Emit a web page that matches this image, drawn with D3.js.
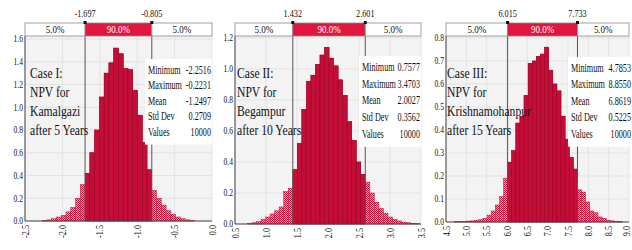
<!DOCTYPE html>
<meta charset="utf-8">
<script src="https://cdn.jsdelivr.net/npm/d3@7"></script>
<style>
  body { margin: 0; background: #fff; }
  text { font-family: "Liberation Serif", "Times New Roman", serif; }
</style>
<body>
<div id="chart"></div>
<script>
  // ---- data ----
  var caseLines1 = ["Case I:", "NPV for", "Kamalgazi", "after 5 Years"];
  var caseLines2 = ["Case II:", "NPV for", "Begampur", "after 10 Years"];
  var caseLines3 = ["Case III:", "NPV for", "Krishnamohanpur", "after 15 Years"];

  var statNames = ["Minimum", "Maximum", "Mean", "Std Dev", "Values"];
  var stats1 = ["-2.2516", "-0.2231", "-1.2497", "0.2709", "10000"];
  var stats2 = ["0.7577", "3.4703", "2.0027", "0.3562", "10000"];
  var stats3 = ["4.7853", "8.8550", "6.8619", "0.5225", "10000"];

  var bandLabels = ["5.0%", "90.0%", "5.0%"];
  var pct1 = [-1.697, -0.805];
  var pct2 = [1.432, 2.601];
  var pct3 = [6.015, 7.733];

  var xTicks1 = [-2.5, -2.0, -1.5, -1.0, -0.5, 0.0];
  var xTicks2 = [0.5, 1.0, 1.5, 2.0, 2.5, 3.0, 3.5];
  var xTicks3 = [4.5, 5.0, 5.5, 6.0, 6.5, 7.0, 7.5, 8.0, 8.5, 9.0];
  var yTicks1 = [0.0, 0.2, 0.4, 0.6, 0.8, 1.0, 1.2, 1.4, 1.6];
  var yTicks2 = [0.0, 0.2, 0.4, 0.6, 0.8, 1.0, 1.2];
  var yTicks3 = [0.0, 0.1, 0.2, 0.3, 0.4, 0.5, 0.6, 0.7, 0.8];

  // histogram bins: first bin edge, bin width, density per bin
  var binStart1 = -2.270, binWidth1 = 0.0637;
  var density1 = [0.004, 0.01, 0.02, 0.035, 0.05, 0.08, 0.12, 0.2, 0.32,
    0.42, 0.6, 0.8, 1.09, 1.3, 1.39, 1.52, 1.47, 1.34, 1.33, 1.15, 0.93, 0.69, 0.45,
    0.27, 0.2, 0.14, 0.09, 0.06, 0.035, 0.02, 0.01, 0.004];

  var binStart2 = 0.701, binWidth2 = 0.0731;
  var density2 = [0.003, 0.008, 0.015, 0.03, 0.045, 0.065, 0.085, 0.11, 0.21, 0.23,
    0.35, 0.52, 0.74, 0.92, 0.96, 1.03, 1.09, 1.14, 1.07, 1.02, 0.93, 0.83, 0.66, 0.54, 0.40, 0.32,
    0.27, 0.2, 0.14, 0.1, 0.07, 0.045, 0.03, 0.02, 0.012, 0.008, 0.004, 0.002];

  var binStart3 = 4.702, binWidth3 = 0.101;
  var density3 = [0.002, 0.002, 0.003, 0.004, 0.005, 0.008, 0.01, 0.016, 0.03, 0.048, 0.074, 0.11, 0.19,
    0.26, 0.31, 0.43, 0.46, 0.55, 0.69, 0.70, 0.72, 0.73, 0.76, 0.66, 0.60, 0.57, 0.46, 0.36, 0.28, 0.23,
    0.14, 0.13, 0.087, 0.048, 0.04, 0.022, 0.016, 0.008, 0.005, 0.003, 0.002];

  // ---- layout ----
  var panels = [
    { lines: caseLines1, stats: stats1, pct: pct1, xTicks: xTicks1, yTicks: yTicks1,
      binStart: binStart1, binWidth: binWidth1, density: density1,
      left: 25, right: 212, bottom: 221, yTop: 39, statX: 145, statRight: 212, rowY: 74, rowStep: 15.4, textX: 30 },
    { lines: caseLines2, stats: stats2, pct: pct2, xTicks: xTicks2, yTicks: yTicks2,
      binStart: binStart2, binWidth: binWidth2, density: density2,
      left: 235, right: 421, bottom: 224, yTop: 38, statX: 359, statRight: 421, rowY: 71, rowStep: 16.7, textX: 237 },
    { lines: caseLines3, stats: stats3, pct: pct3, xTicks: xTicks3, yTicks: yTicks3,
      binStart: binStart3, binWidth: binWidth3, density: density3,
      left: 446, right: 629, bottom: 222, yTop: 38, statX: 568, statRight: 632, rowY: 72, rowStep: 16.4, textX: 447 }
  ];
  var bandTop = 23, bandH = 13, plotTop = 36;

  var svg = d3.select("#chart").append("svg")
    .attr("width", 632)
    .attr("height", 250);

  var defs = svg.append("defs");

  // speckled fill for the 5% tails
  var pat = defs.append("pattern")
    .attr("id", "stipple")
    .attr("width", 2).attr("height", 2)
    .attr("patternUnits", "userSpaceOnUse");
  pat.append("rect").attr("width", 2).attr("height", 2).attr("fill", "#eba7b6");
  pat.append("rect").attr("width", 1).attr("height", 1).attr("fill", "#c2123b");
  pat.append("rect").attr("x", 1).attr("y", 1).attr("width", 1).attr("height", 1).attr("fill", "#c2123b");

  // text squeezed horizontally like the original
  function sText(sel, x, y, str, size, sx, anchor, fill) {
    return sel.append("text")
      .attr("transform", "translate(" + x + "," + y + ") scale(" + sx + ",1)")
      .attr("text-anchor", anchor || "start")
      .attr("font-size", size)
      .attr("fill", fill || "#111")
      .text(str);
  }

  panels.forEach(function (p, k) {
    var x = d3.scaleLinear().domain(d3.extent(p.xTicks)).range([p.left, p.right]);
    var y = d3.scaleLinear().domain([0, d3.max(p.yTicks)]).range([p.bottom, p.yTop]);
    var g = svg.append("g");

    // plot background + grid
    g.append("rect")
      .attr("x", p.left).attr("y", plotTop)
      .attr("width", p.right - p.left).attr("height", p.bottom - plotTop)
      .attr("fill", "#f3f3f3");

    g.selectAll(".vgrid").data(p.xTicks).enter().append("line")
      .attr("x1", function (d) { return x(d); }).attr("x2", function (d) { return x(d); })
      .attr("y1", plotTop).attr("y2", p.bottom)
      .attr("stroke", "#dedede").attr("stroke-width", 0.8);

    g.selectAll(".hgrid").data(p.yTicks).enter().append("line")
      .attr("x1", p.left).attr("x2", p.right)
      .attr("y1", function (d) { return y(d); }).attr("y2", function (d) { return y(d); })
      .attr("stroke", "#dedede").attr("stroke-width", 0.8);

    // histogram
    var bins = p.density.map(function (d, i) {
      return { x0: p.binStart + i * p.binWidth, x1: p.binStart + (i + 1) * p.binWidth, v: d };
    });

    g.append("g").selectAll("rect").data(bins).enter().append("rect")
      .attr("x", function (d) { return x(d.x0); })
      .attr("width", function (d) { return x(d.x1) - x(d.x0); })
      .attr("y", function (d) { return y(d.v); })
      .attr("height", function (d) { return y(0) - y(d.v); })
      .attr("fill", "url(#stipple)")
      .attr("stroke", "#c2123b")
      .attr("stroke-width", 0.5);

    var clipId = "mid" + k;
    defs.append("clipPath").attr("id", clipId)
      .append("rect")
      .attr("x", x(p.pct[0])).attr("y", 0)
      .attr("width", x(p.pct[1]) - x(p.pct[0])).attr("height", 250);

    g.append("g").attr("clip-path", "url(#" + clipId + ")")
      .selectAll("rect").data(bins).enter().append("rect")
      .attr("x", function (d) { return x(d.x0); })
      .attr("width", function (d) { return x(d.x1) - x(d.x0); })
      .attr("y", function (d) { return y(d.v); })
      .attr("height", function (d) { return y(0) - y(d.v); })
      .attr("fill", "#c40d37")
      .attr("stroke", "#950626")
      .attr("stroke-width", 0.5);

    // percentile lines
    g.selectAll(".pline").data(p.pct).enter().append("line")
      .attr("x1", function (d) { return x(d); }).attr("x2", function (d) { return x(d); })
      .attr("y1", plotTop).attr("y2", p.bottom)
      .attr("stroke", "#555").attr("stroke-width", 1);

    // axes
    g.append("line").attr("x1", p.left).attr("x2", p.left)
      .attr("y1", plotTop).attr("y2", p.bottom)
      .attr("stroke", "#444").attr("stroke-width", 1);
    g.append("line").attr("x1", p.left).attr("x2", p.right)
      .attr("y1", p.bottom).attr("y2", p.bottom)
      .attr("stroke", "#444").attr("stroke-width", 1);

    p.yTicks.forEach(function (t) {
      sText(g, p.left - 2, y(t) + 3.3, t.toFixed(1), 9.5, 0.8, "end");
    });

    p.xTicks.forEach(function (t) {
      // keep the last label inside the window
      var lx = Math.min(x(t), 626);
      g.append("text")
        .attr("transform", "translate(" + lx + "," + (p.bottom + 4) + ") rotate(-90) scale(0.82,1)")
        .attr("text-anchor", "end")
        .attr("dy", "0.35em")
        .attr("font-size", 10)
        .attr("fill", "#111")
        .text(t.toFixed(1));
    });

    // percentile band on top
    var edges = [p.left, x(p.pct[0]), x(p.pct[1]), p.right];
    bandLabels.forEach(function (lab, i) {
      g.append("rect")
        .attr("x", edges[i]).attr("y", bandTop)
        .attr("width", edges[i + 1] - edges[i]).attr("height", bandH)
        .attr("fill", i === 1 ? "#e1163f" : "#fff")
        .attr("stroke", "#888").attr("stroke-width", 0.8);
      sText(g, (edges[i] + edges[i + 1]) / 2, bandTop + 10, lab, 10, 0.9, "middle", i === 1 ? "#fff" : "#111");
    });

    p.pct.forEach(function (v) {
      g.append("rect")
        .attr("x", x(v) - 1.5).attr("y", bandTop - 2)
        .attr("width", 3).attr("height", 3)
        .attr("fill", "#111");
      sText(g, x(v), bandTop - 6, v.toFixed(3), 10, 0.82, "middle");
    });

    // stats box
    g.append("rect")
      .attr("x", p.statX).attr("y", p.rowY - 15)
      .attr("width", p.statRight - p.statX).attr("height", p.rowStep * 4 + 24)
      .attr("fill", "#fff");
    statNames.forEach(function (name, i) {
      var yy = p.rowY + i * p.rowStep;
      sText(g, p.statX + 3, yy, name, 12, 0.68, "start");
      sText(g, p.statRight - 1, yy, p.stats[i], 12, 0.68, "end");
    });

    // case text
    p.lines.forEach(function (line, i) {
      sText(g, p.textX, 78 + i * 19, line, 14, 0.83, "start");
    });
  });
</script>
</body>
